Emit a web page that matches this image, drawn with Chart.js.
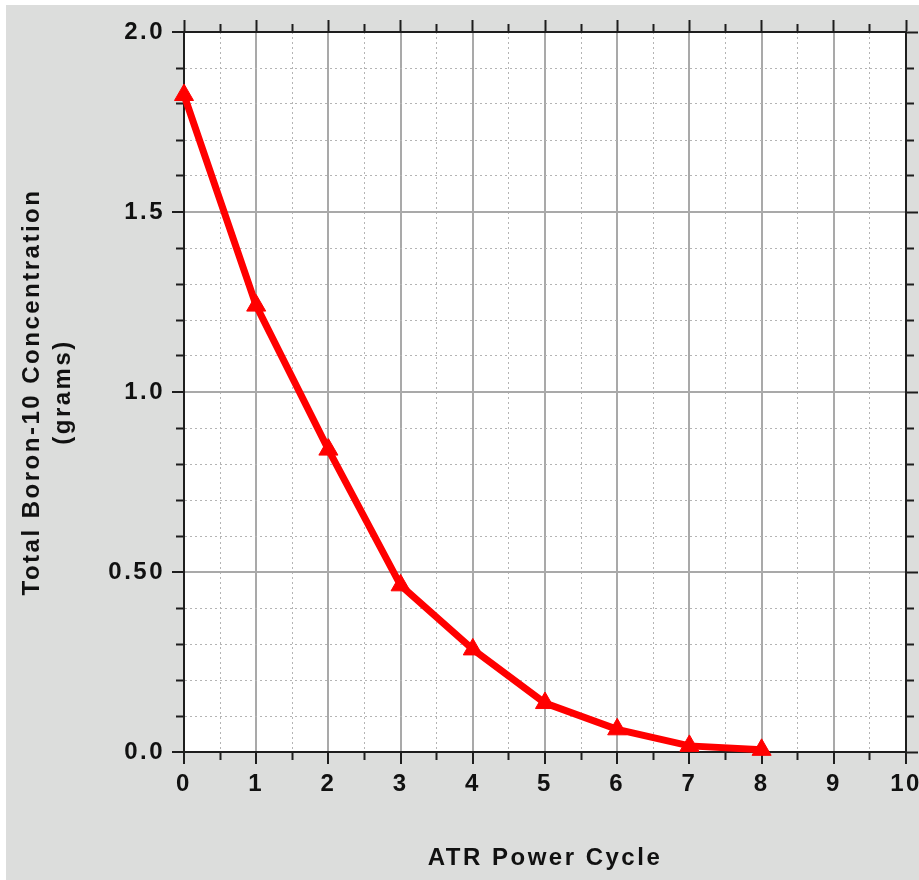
<!DOCTYPE html>
<html>
<head>
<meta charset="utf-8">
<title>Total Boron-10 Concentration</title>
<script src="https://cdn.jsdelivr.net/npm/chart.js@4.4.1/dist/chart.umd.min.js"></script>
<style>
  body { margin: 0; background: #fff; }
  #chart { display: block; margin: 5px 0 0 6px; background: #dcdddc; }
</style>
</head>
<body>
<canvas id="chart" width="913" height="875"></canvas>
<script>
// values
const cycles = [0, 1, 2, 3, 4, 5, 6, 7, 8];
const boron10 = [1.825, 1.24, 0.84, 0.463, 0.285, 0.136, 0.063, 0.017, 0.006];
const yTickValues = [0, 0.5, 1, 1.5, 2];
const yTickLabels = ['0.0', '0.50', '1.0', '1.5', '2.0'];

const axisColor = '#1e1e1e';
const majorGrid = '#a9a9a9';
const minorGrid = '#b4b4b4';
const labelFont = { family: '"Liberation Sans", Arial, sans-serif', size: 24, weight: 'bold' };

const isMajorX = v => Math.abs(v - Math.round(v)) < 1e-6;
const isMajorY = v => Math.abs(v * 2 - Math.round(v * 2)) < 1e-6;

function yLabel(v) {
  const i = yTickValues.findIndex(t => Math.abs(t - v) < 1e-6);
  return i >= 0 ? yTickLabels[i] : '';
}

// white plot area + wider letter spacing like the original rendering
const plotBackground = {
  id: 'plotBackground',
  beforeInit(chart) { chart.ctx.letterSpacing = '2.5px'; },
  beforeDraw(chart) {
    const { ctx, chartArea: a } = chart;
    ctx.save();
    ctx.fillStyle = '#ffffff';
    ctx.fillRect(a.left, a.top, a.right - a.left, a.bottom - a.top);
    ctx.restore();
    ctx.letterSpacing = '2.5px';
  }
};

// outer ticks: long on major values, short on minor (dash trick)
function tickDash(major, outward) {
  if (major) return [];
  return outward ? [7, 100] : [0, 4, 7, 100];
}

new Chart(document.getElementById('chart'), {
  type: 'line',
  data: {
    datasets: [{
      data: cycles.map((c, i) => ({ x: c, y: boron10[i] })),
      borderColor: '#ff0000',
      backgroundColor: '#ff0000',
      borderWidth: 7,
      pointStyle: 'triangle',
      pointRadius: 11,
      pointBorderWidth: 1,
      tension: 0,
      clip: false
    }]
  },
  plugins: [plotBackground],
  options: {
    responsive: false,
    devicePixelRatio: 1,
    animation: false,
    layout: { padding: 0 },
    plugins: { legend: { display: false }, tooltip: { enabled: false } },
    scales: {
      x: {
        type: 'linear', position: 'bottom', min: 0, max: 10,
        afterFit: s => { s.height = 128; s.paddingLeft = 0; s.paddingRight = 0; },
        ticks: {
          stepSize: 0.5, autoSkip: false, maxRotation: 0, padding: 6,
          color: '#111', font: labelFont,
          callback: v => isMajorX(v) ? String(v) : ''
        },
        grid: {
          color: c => c.tick && !isMajorX(c.tick.value) ? minorGrid : majorGrid,
          lineWidth: c => c.tick && !isMajorX(c.tick.value) ? 1 : 2,
          tickLength: 12, tickWidth: 2, tickColor: axisColor,
          tickBorderDash: c => tickDash(!c.tick || isMajorX(c.tick.value), true)
        },
        border: {
          color: axisColor, width: 2,
          dash: c => c.tick && !isMajorX(c.tick.value) ? [2, 3] : []
        },
        title: {
          display: true, text: 'ATR Power Cycle', color: '#111', font: labelFont,
          padding: { top: 0, bottom: 7 }
        }
      },
      x2: {
        type: 'linear', position: 'top', min: 0, max: 10,
        afterFit: s => { s.height = 27; s.paddingLeft = 0; s.paddingRight = 0; },
        ticks: { stepSize: 0.5, autoSkip: false, maxRotation: 0, callback: () => '' },
        grid: {
          drawOnChartArea: false,
          tickLength: 12, tickWidth: 2, tickColor: axisColor,
          tickBorderDash: c => tickDash(!c.tick || isMajorX(c.tick.value), false)
        },
        border: { color: axisColor, width: 2 }
      },
      y: {
        type: 'linear', position: 'left', min: 0, max: 2,
        afterFit: s => { s.width = 178; s.paddingTop = 0; s.paddingBottom = 0; },
        ticks: {
          stepSize: 0.1, autoSkip: false, padding: 7,
          color: '#111', font: labelFont,
          callback: v => yLabel(v)
        },
        grid: {
          color: c => c.tick && !isMajorY(c.tick.value) ? minorGrid : majorGrid,
          lineWidth: c => c.tick && !isMajorY(c.tick.value) ? 1 : 2,
          tickLength: 12, tickWidth: 2, tickColor: axisColor,
          tickBorderDash: c => tickDash(!c.tick || isMajorY(c.tick.value), false)
        },
        border: {
          color: axisColor, width: 2,
          dash: c => c.tick && !isMajorY(c.tick.value) ? [2, 3] : []
        },
        title: {
          display: true, text: ['Total Boron-10 Concentration', '(grams)'],
          color: '#111', font: { ...labelFont, lineHeight: 1.3 },
          padding: { top: 11, bottom: 0 }
        }
      },
      y2: {
        type: 'linear', position: 'right', min: 0, max: 2,
        afterFit: s => { s.width = 13; s.paddingTop = 0; s.paddingBottom = 0; },
        ticks: { stepSize: 0.1, autoSkip: false, callback: () => '' },
        grid: {
          drawOnChartArea: false,
          tickLength: 12, tickWidth: 2, tickColor: axisColor,
          tickBorderDash: c => tickDash(!c.tick || isMajorY(c.tick.value), true)
        },
        border: { color: axisColor, width: 2 }
      }
    }
  }
});
</script>
</body>
</html>
